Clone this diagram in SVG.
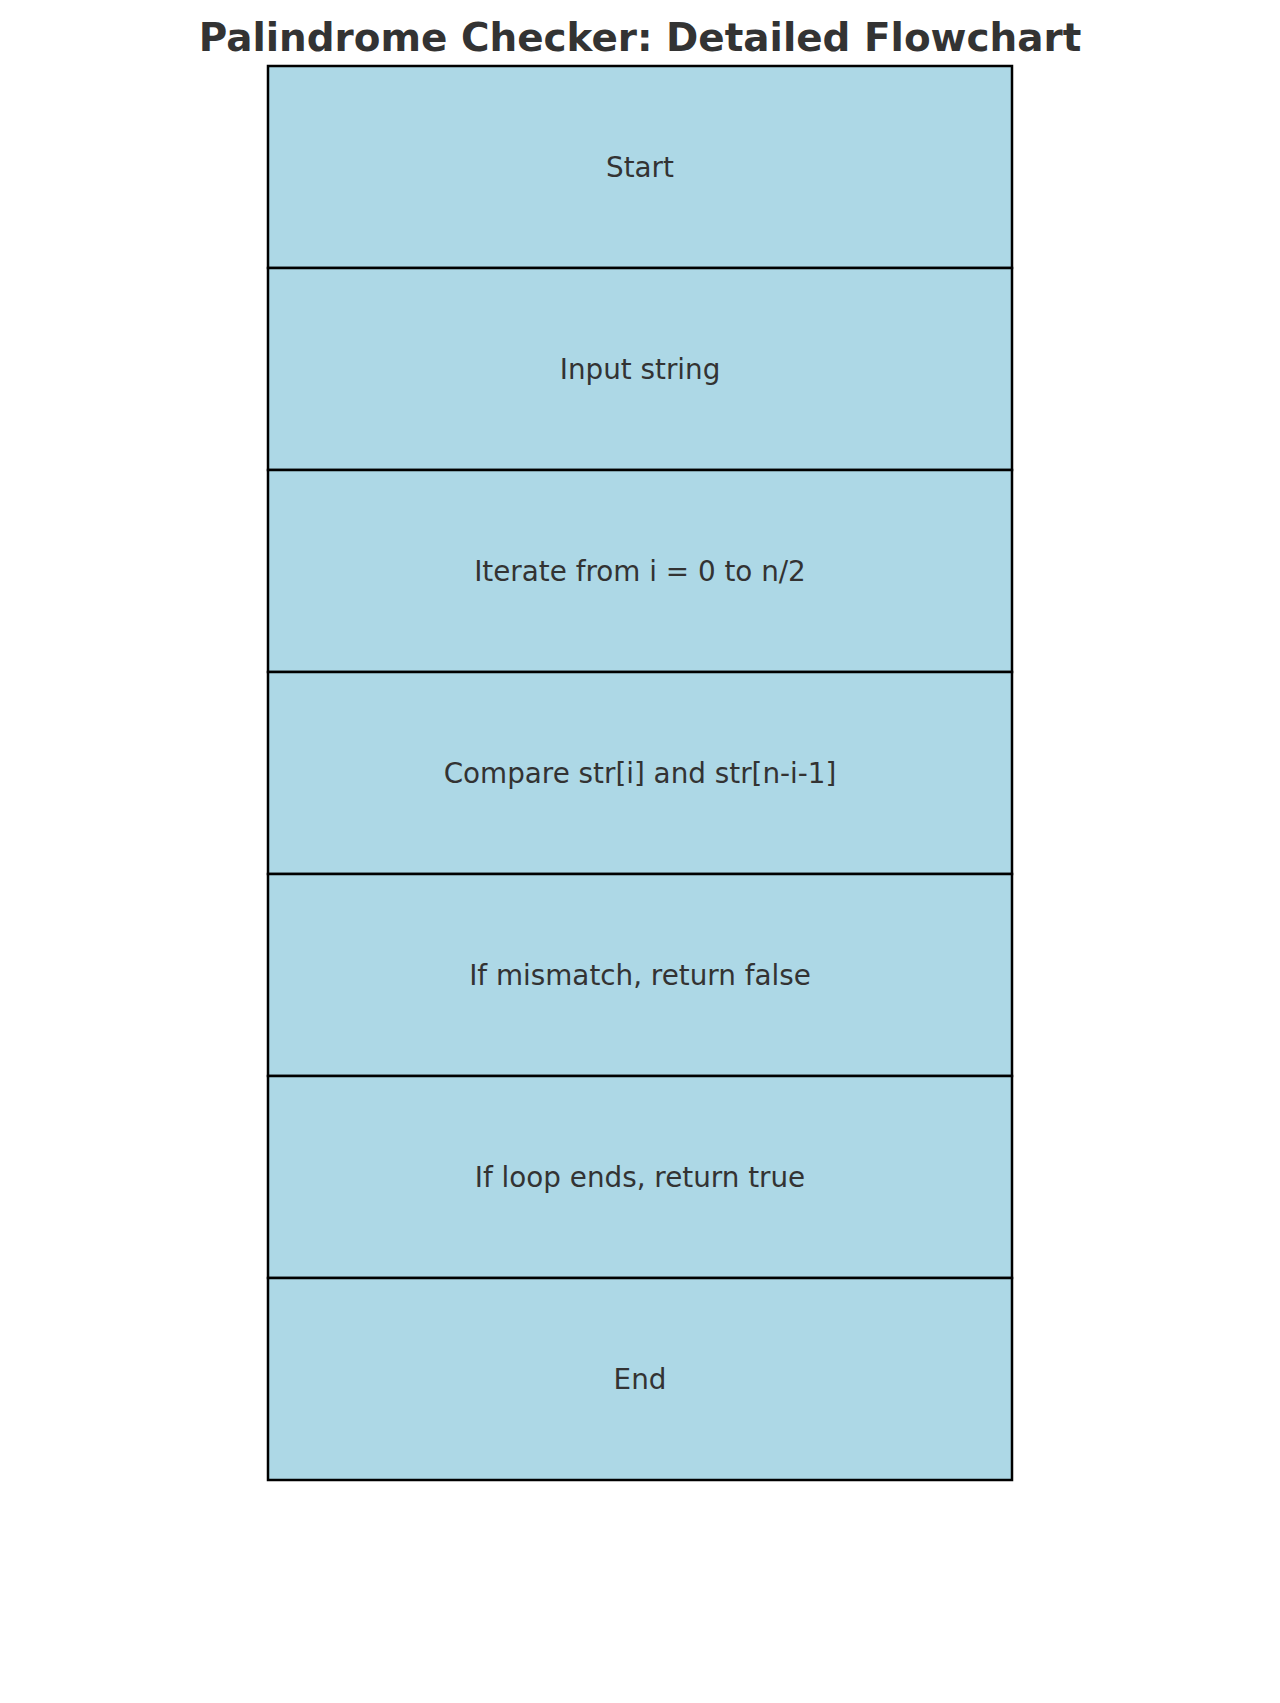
<svg xmlns="http://www.w3.org/2000/svg" width="1280" height="1703" viewBox="0 0 1280 1703">
<style>
.box{fill:#add8e6;stroke:#000;stroke-width:2.5}
.lbl{font-family:"DejaVu Sans",sans-serif;font-size:27.8px;fill:#333;text-anchor:middle;dominant-baseline:central}
.title{font-family:"DejaVu Sans",sans-serif;font-size:38.9px;font-weight:bold;fill:#333;text-anchor:middle}
</style>
<rect width="1280" height="1703" fill="#fff"/>
<text class="title" x="640" y="51">Palindrome Checker: Detailed Flowchart</text>
<g id="connectors"></g>
<g id="n1"><rect class="box" x="268" y="66" width="744" height="202"/><text class="lbl" x="640" y="167">Start</text></g>
<g id="n2"><rect class="box" x="268" y="268" width="744" height="202"/><text class="lbl" x="640" y="369">Input string</text></g>
<g id="n3"><rect class="box" x="268" y="470" width="744" height="202"/><text class="lbl" x="640" y="571">Iterate from i = 0 to n/2</text></g>
<g id="n4"><rect class="box" x="268" y="672" width="744" height="202"/><text class="lbl" x="640" y="773">Compare str[i] and str[n-i-1]</text></g>
<g id="n5"><rect class="box" x="268" y="874" width="744" height="202"/><text class="lbl" x="640" y="975">If mismatch, return false</text></g>
<g id="n6"><rect class="box" x="268" y="1076" width="744" height="202"/><text class="lbl" x="640" y="1177">If loop ends, return true</text></g>
<g id="n7"><rect class="box" x="268" y="1278" width="744" height="202"/><text class="lbl" x="640" y="1379">End</text></g>
</svg>
